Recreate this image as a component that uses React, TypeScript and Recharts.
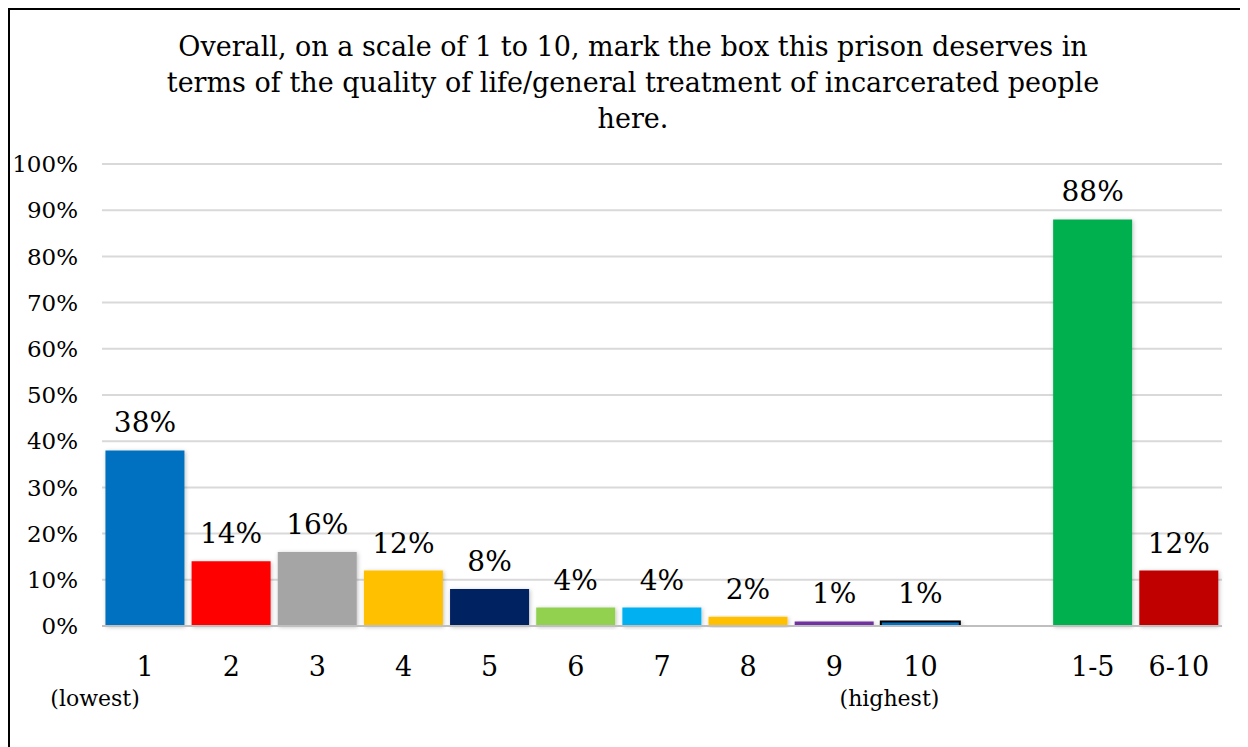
import { Bar, BarChart, CartesianGrid, Cell, LabelList, XAxis, YAxis } from "recharts";

const categories = ["1", "2", "3", "4", "5", "6", "7", "8", "9", "10", "", "1-5", "6-10"];
const shares = [38, 14, 16, 12, 8, 4, 4, 2, 1, 1, null, 88, 12];
const notes = ["(lowest)", "", "", "", "", "", "", "", "", "(highest)", "", "", ""];
const barColors = [
  "#0070C0", "#FF0000", "#A5A5A5", "#FFC000", "#002060", "#92D050", "#00B0F0",
  "#FFC000", "#7030A0", "#0070C0", "#FFFFFF", "#00B050", "#C00000",
];
const yTicks = [0, 10, 20, 30, 40, 50, 60, 70, 80, 90, 100];

const font = "'DejaVu Serif', serif";

const data = categories.map((name, i) => ({ name, value: shares[i] }));

const CategoryTick = (props: any) => {
  const { x, y, payload, index } = props;
  const note = notes[index];
  return (
    <g>
      <text x={x} y={y + 50} textAnchor="middle" fontSize={27} fill="#000" fontFamily={font}>
        {payload.value}
      </text>
      {note && (
        <text
          x={x + (index === 0 ? -50 : -31)}
          y={y + 80}
          textAnchor="middle"
          fontSize={22}
          fill="#000"
          fontFamily={font}
        >
          {note}
        </text>
      )}
    </g>
  );
};

const App = () => {
  return (
    <div style={{ width: 1240, height: 739, overflow: "hidden" }}>
      <div
        style={{
          position: "relative",
          width: 1260,
          height: 760,
          border: "2px solid #000",
          boxSizing: "border-box",
          background: "#fff",
          fontFamily: font,
        }}
      >
        <div
          style={{
            position: "absolute",
            top: 19,
            left: 0,
            width: 1236,
            paddingLeft: 10,
            boxSizing: "border-box",
            textAlign: "center",
            fontSize: 27,
            lineHeight: "36px",
            color: "#000",
          }}
        >
          Overall, on a scale of 1 to 10, mark the box this prison deserves in
          <br />
          terms of the quality of life/general treatment of incarcerated people
          <br />
          here.
        </div>
        <BarChart
          width={1236}
          height={735}
          data={data}
          margin={{ top: 154, right: 24, left: 0, bottom: 0 }}
          barCategoryGap="4%"
        >
          <defs>
            <filter id="barShadow" x="-10%" y="-10%" width="130%" height="130%">
              <feDropShadow dx="1" dy="1" stdDeviation="2" floodColor="#000" floodOpacity="0.25" />
            </filter>
          </defs>
          <CartesianGrid vertical={false} stroke="#D9D9D9" strokeWidth={2} />
          <XAxis
            dataKey="name"
            height={119}
            interval={0}
            tickLine={false}
            tickSize={0}
            tickMargin={0}
            axisLine={{ stroke: "#BFBFBF", strokeWidth: 2 }}
            tick={<CategoryTick />}
          />
          <YAxis
            width={92}
            domain={[0, 100]}
            ticks={yTicks}
            axisLine={false}
            tickLine={false}
            tickSize={0}
            tickMargin={24}
            tickFormatter={(v: number) => `${v}%`}
            tick={{ fontSize: 23, fill: "#000", fontFamily: font }}
          />
          <Bar dataKey="value" isAnimationActive={false} filter="url(#barShadow)">
            {data.map((d, i) => (
              <Cell
                key={`c-${i}`}
                fill={barColors[i]}
                stroke={d.name === "10" ? "#000" : "none"}
                strokeWidth={d.name === "10" ? 2 : 0}
              />
            ))}
            <LabelList
              dataKey="value"
              position="top"
              offset={18}
              formatter={(v: any) => (v == null ? "" : `${v}%`)}
              style={{ fontSize: 28, fill: "#000", fontFamily: font }}
            />
          </Bar>
        </BarChart>
      </div>
    </div>
  );
};

export default App;
